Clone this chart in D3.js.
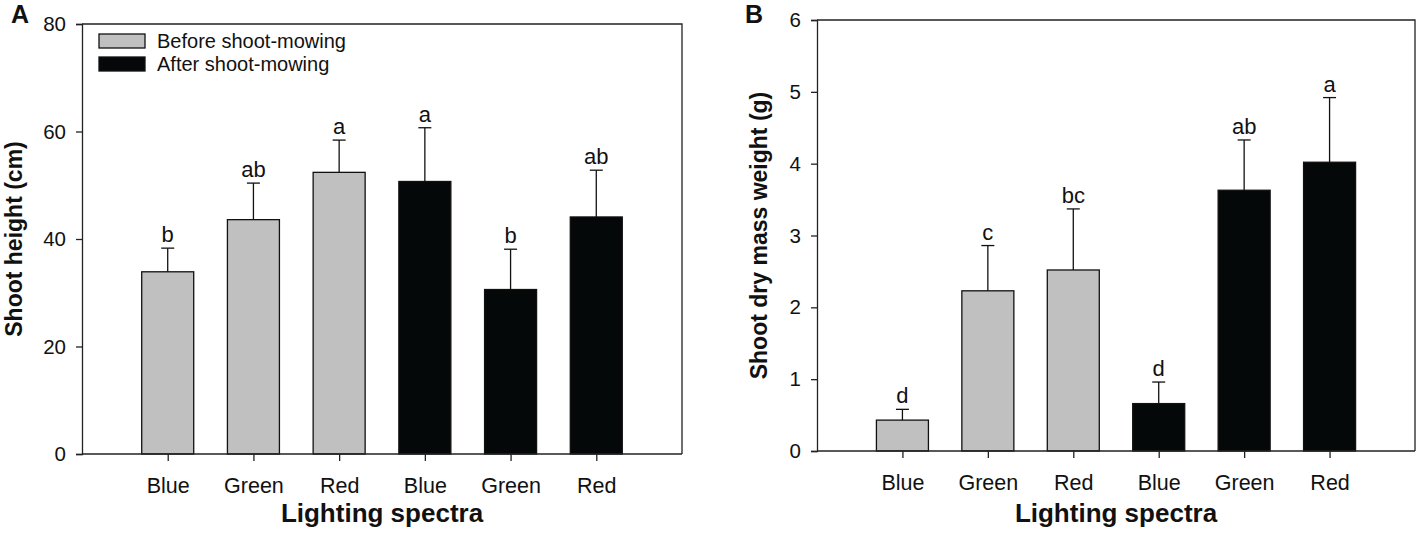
<!DOCTYPE html>
<html>
<head>
<meta charset="utf-8">
<script src="https://cdnjs.cloudflare.com/ajax/libs/d3/7.8.5/d3.min.js"></script>
<style>
  body { margin: 0; background: #fff; }
  svg { font-family: "Liberation Sans", Arial, sans-serif; }
</style>
</head>
<body>
<svg id="chart" width="1417" height="539"></svg>
<script>
// data
const categories = ["Blue", "Green", "Red", "Blue", "Green", "Red"];
const phase = ["before", "before", "before", "after", "after", "after"];
const heightMean = [33.9, 43.6, 52.4, 50.7, 30.6, 44.1];
const heightErr = [4.4, 6.8, 6.0, 10.0, 7.5, 8.7];
const heightLetters = ["b", "ab", "a", "a", "b", "ab"];
const massMean = [0.43, 2.23, 2.52, 0.66, 3.63, 4.02];
const massErr = [0.15, 0.63, 0.85, 0.30, 0.70, 0.90];
const massLetters = ["d", "c", "bc", "d", "ab", "a"];
const legendLabels = ["Before shoot-mowing", "After shoot-mowing"];

const fillColor = { before: "#c0c0c0", after: "#050808" };

const svg = d3.select("#chart");

function drawPanel(opt) {
  const x = d3.scalePoint()
    .domain(d3.range(categories.length))
    .range([opt.left, opt.right])
    .padding(1);
  const y = d3.scaleLinear().domain([0, opt.max]).range([opt.bottom, opt.top]);
  const barW = 52;

  const g = svg.append("g");

  // frame (top & right)
  g.append("path")
    .attr("d", "M" + opt.left + "," + opt.top + "H" + opt.right + "V" + opt.bottom)
    .attr("fill", "none").attr("stroke", "#222").attr("stroke-width", 1.3);

  // bars
  g.selectAll(".bar")
    .data(opt.mean)
    .enter()
    .append("rect")
    .attr("x", (d, i) => x(i) - barW / 2)
    .attr("y", d => y(d))
    .attr("width", barW)
    .attr("height", d => y(0) - y(d))
    .attr("fill", (d, i) => fillColor[phase[i]])
    .attr("stroke", "#111")
    .attr("stroke-width", 1.3);

  // error bars (upper only) + letters
  opt.mean.forEach(function (m, i) {
    const cx = x(i);
    const top = y(m + opt.err[i]);
    g.append("line")
      .attr("x1", cx).attr("x2", cx)
      .attr("y1", y(m)).attr("y2", top)
      .attr("stroke", "#111").attr("stroke-width", 1.3);
    g.append("line")
      .attr("x1", cx - 6.5).attr("x2", cx + 6.5)
      .attr("y1", top).attr("y2", top)
      .attr("stroke", "#111").attr("stroke-width", 1.3);
    g.append("text")
      .attr("x", cx)
      .attr("y", top - 6)
      .attr("text-anchor", "middle")
      .style("font-size", "22px")
      .style("fill", "#111")
      .text(opt.letters[i]);
  });

  // y axis
  const yAxis = g.append("g")
    .attr("transform", "translate(" + opt.left + ",0)")
    .call(d3.axisLeft(y).ticks(opt.max / opt.step).tickSizeOuter(0).tickSize(6).tickPadding(10));
  yAxis.selectAll("text").style("font-size", "20.5px").style("fill", "#111");
  yAxis.selectAll("line, path").attr("stroke", "#222").attr("stroke-width", 1.3);

  // x axis
  const xAxis = g.append("g")
    .attr("transform", "translate(0," + opt.bottom + ")")
    .call(d3.axisBottom(x).tickSizeOuter(0).tickSize(7).tickPadding(17).tickFormat(i => categories[i]));
  xAxis.select(".domain").attr("d", "M" + opt.left + ",0H" + opt.right);
  xAxis.selectAll("text").style("font-size", "21.5px").style("fill", "#111");
  xAxis.selectAll("line, path").attr("stroke", "#222").attr("stroke-width", 1.3);

  // axis titles
  g.append("text")
    .attr("x", (opt.left + opt.right) / 2)
    .attr("y", 522)
    .attr("text-anchor", "middle")
    .style("font-size", "26px").style("font-weight", "bold").style("fill", "#111")
    .text("Lighting spectra");
  g.append("text")
    .attr("transform", "translate(" + opt.titleX + "," + (opt.top + opt.bottom) / 2 + ") rotate(-90)")
    .attr("text-anchor", "middle")
    .style("font-size", "23px").style("font-weight", "bold").style("fill", "#111")
    .text(opt.yTitle);

  // panel letter
  g.append("text")
    .attr("x", opt.labelX).attr("y", opt.labelY)
    .style("font-size", "25px").style("font-weight", "bold").style("fill", "#111")
    .text(opt.label);

  return g;
}

const gA = drawPanel({
  left: 82, right: 682, top: 24, bottom: 454, max: 80, step: 20,
  mean: heightMean, err: heightErr, letters: heightLetters,
  yTitle: "Shoot height (cm)", titleX: 22, label: "A", labelX: 11, labelY: 23
});

drawPanel({
  left: 817, right: 1415, top: 20, bottom: 451, max: 6, step: 1,
  mean: massMean, err: massErr, letters: massLetters,
  yTitle: "Shoot dry mass weight (g)", titleX: 767, label: "B", labelX: 745, labelY: 23
});

// legend (panel A)
const legend = gA.selectAll(".legend")
  .data(legendLabels)
  .enter()
  .append("g")
  .attr("transform", (d, i) => "translate(99," + (34 + i * 23) + ")");
legend.append("rect")
  .attr("width", 46).attr("height", 14)
  .attr("fill", (d, i) => i === 0 ? fillColor.before : fillColor.after)
  .attr("stroke", "#111").attr("stroke-width", 1.3);
legend.append("text")
  .attr("x", 58).attr("y", 14)
  .style("font-size", "20px").style("fill", "#111")
  .text(d => d);
</script>
</body>
</html>
